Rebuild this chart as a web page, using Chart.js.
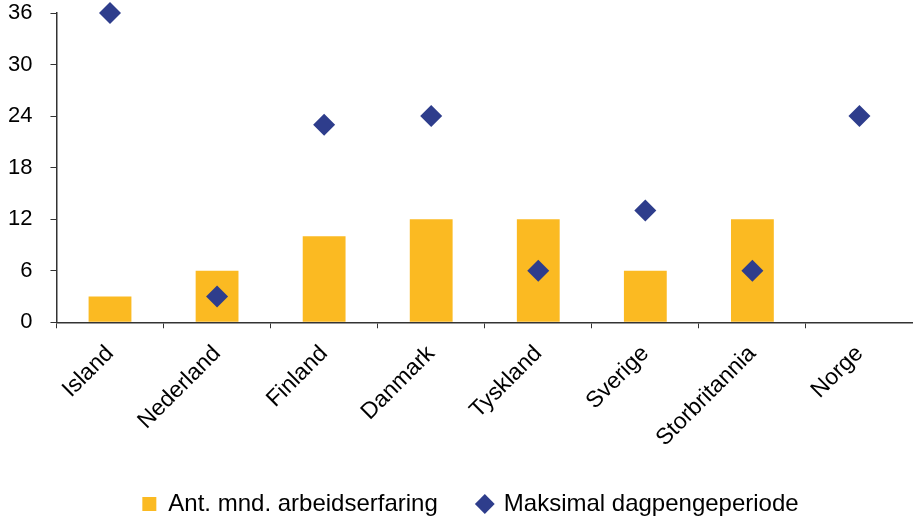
<!DOCTYPE html>
<html>
<head>
<meta charset="utf-8">
<script src="https://cdn.jsdelivr.net/npm/chart.js@4/dist/chart.umd.min.js"></script>
<style>
  html, body { margin: 0; padding: 0; background: #fff; }
  #wrap { width: 913px; height: 518px; }
</style>
</head>
<body>
<div id="wrap"><canvas id="c" width="913" height="518"></canvas></div>
<script>
// Land
const countries = ['Island', 'Nederland', 'Finland', 'Danmark', 'Tyskland', 'Sverige', 'Storbritannia', 'Norge'];
// Antall måneder arbeidserfaring som kreves
const workMonths = [3, 6, 10, 12, 12, 6, 12, null];
// Maksimal periode med dagpenger (måneder)
const maxPeriod = [36, 3, 23, 24, 6, 13, 6, 24];
// Verdiaksen
const yTicks = [0, 6, 12, 18, 24, 30, 36];

const FONT = "'Liberation Sans', Arial, sans-serif";
const AXIS = '#333333';

// Flytter forklaringen litt mot høyre etter layout
const legendShift = {
  id: 'legendShift',
  afterLayout(chart) {
    const lg = chart.legend;
    if (lg) { lg.left += 19; lg.right += 19; }
  }
};

new Chart(document.getElementById('c'), {
  plugins: [legendShift],
  data: {
    labels: countries,
    datasets: [
      {
        type: 'line',
        label: 'Maksimal dagpengeperiode',
        data: maxPeriod,
        showLine: false,
        clip: false,
        pointStyle: 'rectRot',
        pointRadius: 11,
        pointHoverRadius: 11,
        backgroundColor: '#2E3D8C',
        borderColor: '#2E3D8C',
        borderWidth: 0,
        order: 0
      },
      {
        type: 'bar',
        label: 'Ant. mnd. arbeidserfaring',
        data: workMonths,
        backgroundColor: '#FBBA22',
        borderWidth: 0,
        categoryPercentage: 0.4,
        barPercentage: 1.0,
        order: 1
      }
    ]
  },
  options: {
    responsive: false,
    animation: false,
    devicePixelRatio: 1,
    layout: { autoPadding: false, padding: { left: -10, right: 0, top: 0, bottom: -8 } },
    scales: {
      x: {
        offset: true,
        // labels may hang into the space above the legend
        afterFit: (axis) => { axis.height -= 12; },
        grid: {
          offset: true,
          drawOnChartArea: false,
          drawTicks: true,
          tickLength: 6,
          color: AXIS
        },
        border: { color: AXIS, width: 1.5 },
        ticks: {
          color: '#000',
          font: { family: FONT, size: 23 },
          maxRotation: 45,
          minRotation: 45,
          padding: 12
        }
      },
      y: {
        min: 0,
        max: 36,
        afterBuildTicks: (axis) => { axis.ticks = yTicks.map(v => ({ value: v })); },
        // only half a label height above the top tick
        afterFit: (axis) => { axis.paddingTop = 13; axis.paddingBottom = 13; },
        grid: {
          drawOnChartArea: false,
          drawTicks: true,
          tickLength: 6,
          color: AXIS
        },
        border: { color: AXIS, width: 1.5 },
        ticks: {
          color: '#000',
          font: { family: FONT, size: 22 },
          padding: 18
        }
      }
    },
    plugins: {
      legend: {
        position: 'bottom',
        reverse: true,
        labels: {
          color: '#000',
          font: { family: FONT, size: 24 },
          usePointStyle: true,
          boxWidth: 14,
          boxHeight: 14,
          padding: 40,
          generateLabels: (chart) => {
            const items = Chart.defaults.plugins.legend.labels.generateLabels(chart);
            items.forEach(it => {
              if (it.text.startsWith('Ant.')) { it.pointStyle = 'rect'; }
              else { it.pointStyle = 'rectRot'; }
              it.lineWidth = 0;
            });
            return items;
          }
        }
      },
      tooltip: { enabled: false }
    }
  }
});
</script>
</body>
</html>
